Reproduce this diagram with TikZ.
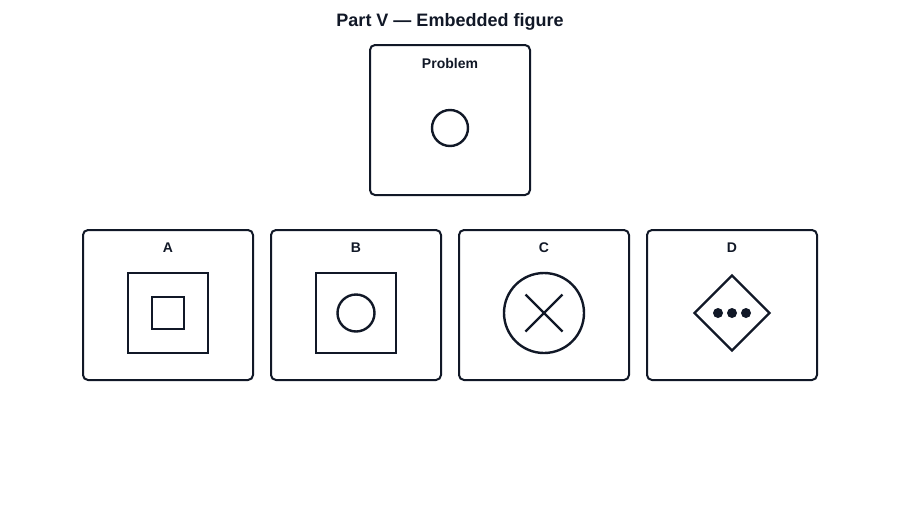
\documentclass[tikz,border=0pt]{standalone}
\usepackage{fontspec}
\setmainfont{Liberation Sans}
\usetikzlibrary{positioning,shapes.geometric}
\definecolor{ink}{HTML}{111827}

\tikzset{
  panel/.style={draw=ink, line width=2pt, rounded corners=5pt,
    minimum width=170pt, minimum height=150pt, inner sep=0pt},
  panellabel/.style={text=ink, font=\bfseries\fontsize{14}{16}\selectfont},
  figline/.style={draw=ink, line width=2.4pt, inner sep=0pt},
}

\begin{document}
\begin{tikzpicture}[x=1pt, y=-1pt, semithick]
  \useasboundingbox (0,0) rectangle (900,520);
  \node[text=ink, font=\bfseries\fontsize{18}{21}\selectfont] (title) at (450,22) {Part V — Embedded figure};

  % problem panel
  \node[panel, minimum width=160pt] (prob) at (450,120) {};
  \node[panellabel] (problabel) at (450,63) {Problem};
  \node[figline, circle, minimum size=36pt] (probfig) at (450,128) {};

  % answer panels
  \foreach \name [count=\i from 0] in {A,B,C,D} {
    \node[panel] (opt\name) at ({168+188*\i},305) {};
    \node[panellabel] (lab\name) at ({168+188*\i},248) {\name};
  }

  % A: square in square
  \node[figline, minimum size=80pt] (aouter) at ([yshift=-8pt]optA.center) {};
  \node[figline, minimum size=32pt] (ainner) at (aouter.center) {};
  % B: circle in square
  \node[figline, minimum size=80pt] (bouter) at ([yshift=-8pt]optB.center) {};
  \node[figline, circle, minimum size=37pt] (binner) at (bouter.center) {};
  % C: cross in circle
  \node[figline, circle, minimum size=80pt] (couter) at ([yshift=-8pt]optC.center) {};
  \draw[ink, line width=2.2pt] (couter.center) ++(-18.5,-18.5) -- ++(37,37);
  \draw[ink, line width=2.2pt] (couter.center) ++(18.5,-18.5) -- ++(-37,37);
  % D: dots in diamond
  \node[figline, diamond, minimum width=76pt, minimum height=76pt] (douter) at ([yshift=-8pt]optD.center) {};
  \foreach \dx in {-14,0,14}
    \fill[ink] (douter.center) ++(\dx,0) circle (5pt);
\end{tikzpicture}
\end{document}
